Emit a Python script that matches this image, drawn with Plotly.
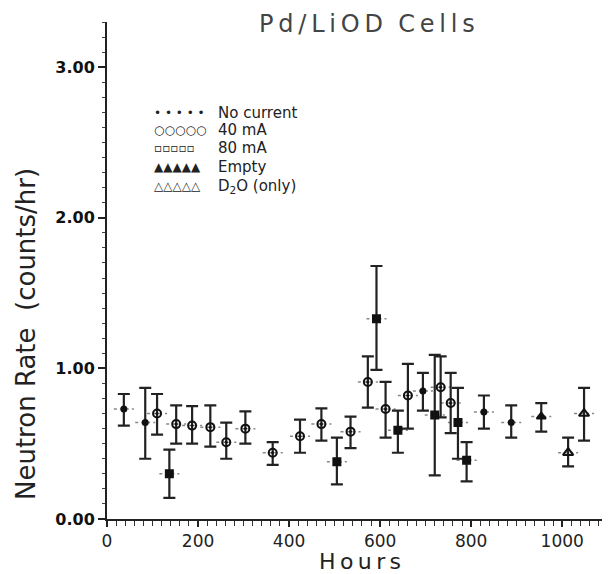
import plotly.graph_objects as go

# ---- data ----
hours = [37, 84, 110, 137, 152, 187, 227, 262, 304, 364, 424, 471, 505, 535,
         573, 592, 612, 639, 661, 694, 720, 733, 755, 771, 790, 828, 888, 954, 1013, 1048]
rate = [0.73, 0.64, 0.70, 0.30, 0.63, 0.62, 0.61, 0.51, 0.60, 0.44, 0.55, 0.63, 0.38, 0.58,
        0.91, 1.33, 0.73, 0.59, 0.82, 0.85, 0.69, 0.875, 0.77, 0.64, 0.39, 0.71, 0.64, 0.68, 0.44, 0.70]
err_hi = [0.83, 0.87, 0.83, 0.46, 0.755, 0.75, 0.755, 0.64, 0.715, 0.51, 0.66, 0.735, 0.54, 0.68,
          1.08, 1.68, 0.91, 0.72, 1.03, 0.97, 1.09, 1.08, 0.97, 0.87, 0.51, 0.82, 0.755, 0.77, 0.54, 0.87]
err_lo = [0.62, 0.40, 0.56, 0.14, 0.50, 0.50, 0.48, 0.40, 0.50, 0.36, 0.44, 0.52, 0.23, 0.47,
          0.74, 0.99, 0.54, 0.44, 0.60, 0.72, 0.29, 0.675, 0.57, 0.40, 0.25, 0.60, 0.54, 0.58, 0.35, 0.52]
group = ["none", "none", "40", "80", "40", "40", "40", "40", "40", "40", "40", "40", "80", "40",
         "40", "80", "40", "80", "40", "none", "80", "40", "40", "80", "80", "none", "none",
         "empty", "d2o", "d2o"]
x_halfwidth = [22] * len(hours)

groups = ["none", "40", "80", "empty", "d2o"]
group_labels = ["No current", "40 mA", "80 mA", "Empty", "D<sub>2</sub>O (only)"]
group_symbols = ["circle", "circle-open-dot", "square", "triangle-up", "triangle-up-open"]
group_sizes = [5, 8, 7, 8, 9]
legend_glyphs = ["• • • • •", "○○○○○", "▫▫▫▫▫", "▲▲▲▲▲", "△△△△△"]

x_ticks = [0, 200, 400, 600, 800, 1000]
y_ticks = [0, 1, 2, 3]
y_tick_text = ["0.00", "1.00", "2.00", "3.00"]

# page body adds an 8px offset; figure sized to fill the rest of the window
OFF = 8
W, H = 610 - OFF, 574 - OFF
L, R, T, B = 107 - OFF, 0, 22 - OFF, 55
PH = H - T - B
PW = W - L - R

fig = go.Figure()

# dotted horizontal bars
hx, hy = [], []
for x, y, w in zip(hours, rate, x_halfwidth):
    hx += [x - w, x + w, None]
    hy += [y, y, None]
fig.add_trace(go.Scatter(x=hx, y=hy, mode="lines",
                         line=dict(color="#888", width=1.5, dash="dot"),
                         hoverinfo="skip", showlegend=False))

for g, sym, sz in zip(groups, group_symbols, group_sizes):
    idx = [i for i, gg in enumerate(group) if gg == g]
    xs = [hours[i] for i in idx]
    ys = [rate[i] for i in idx]
    up = [err_hi[i] - rate[i] for i in idx]
    dn = [rate[i] - err_lo[i] for i in idx]
    fig.add_trace(go.Scatter(
        x=xs, y=ys, mode="markers",
        marker=dict(symbol=sym, size=sz, color="#111",
                    line=dict(color="#111", width=2)),
        error_y=dict(type="data", symmetric=False, array=up, arrayminus=dn,
                     color="#222", thickness=2.2, width=6),
        showlegend=False))

fig.update_xaxes(range=[0, 1105], tickvals=x_ticks, ticks="outside", ticklen=6,
                 tickwidth=1.5, tickcolor="#222", automargin=False,
                 minor=dict(dtick=20, ticks="outside", ticklen=5, tickwidth=1, tickcolor="#333"),
                 showline=True, linecolor="#222", linewidth=1.5, showgrid=False, zeroline=False,
                 tickfont=dict(family="DejaVu Sans", size=17, color="#222"))
fig.update_yaxes(range=[0, 3.3], tickvals=y_ticks, ticktext=y_tick_text, ticks="outside",
                 ticklen=7, tickwidth=1.5, tickcolor="#222", automargin=False,
                 minor=dict(dtick=0.1, ticks="outside", ticklen=3, tickwidth=1, tickcolor="#444"),
                 showline=True, linecolor="#222", linewidth=2, showgrid=False, zeroline=False,
                 tickfont=dict(family="DejaVu Sans", size=16, color="#111", weight="bold"))

def px_x(p):
    return (p - OFF - L) / PW

def px_y(p):
    return (H + OFF - B - p) / PH

TS = "\u2009"
ann = []
# axis titles
ann.append(dict(text="Neutron Rate  (counts/hr)", xref="paper", yref="paper",
                x=px_x(26), y=px_y(334), textangle=-90, showarrow=False,
                xanchor="center", yanchor="middle",
                font=dict(family="DejaVu Sans", size=26, color="#222")))
ann.append(dict(text=TS.join("Hours"), xref="paper", yref="paper",
                x=px_x(360), y=px_y(561), showarrow=False,
                xanchor="center", yanchor="middle",
                font=dict(family="DejaVu Sans", size=22, color="#222")))
# chart title
ann.append(dict(text=TS.join("Pd/LiOD") + "  " + TS.join("Cells"), xref="paper", yref="paper",
                x=px_x(367), y=px_y(24), xanchor="center", yanchor="middle", showarrow=False,
                font=dict(family="DejaVu Sans", size=24, color="#444")))
# legend
row_y = [113, 130, 148, 167, 186]
for gl, lab, py in zip(legend_glyphs, group_labels, row_y):
    yp = px_y(py)
    ann.append(dict(text=gl, xref="paper", yref="paper", x=px_x(152), y=yp,
                    xanchor="left", yanchor="middle", showarrow=False,
                    font=dict(family="DejaVu Sans", size=12, color="#222")))
    ann.append(dict(text=lab, xref="paper", yref="paper", x=px_x(216), y=yp,
                    xanchor="left", yanchor="middle", showarrow=False,
                    font=dict(family="DejaVu Sans", size=15, color="#222")))

fig.update_layout(width=W, height=H, margin=dict(l=L, r=R, t=T, b=B),
                  plot_bgcolor="white", paper_bgcolor="white", annotations=ann)

fig.write_html("out.html")
